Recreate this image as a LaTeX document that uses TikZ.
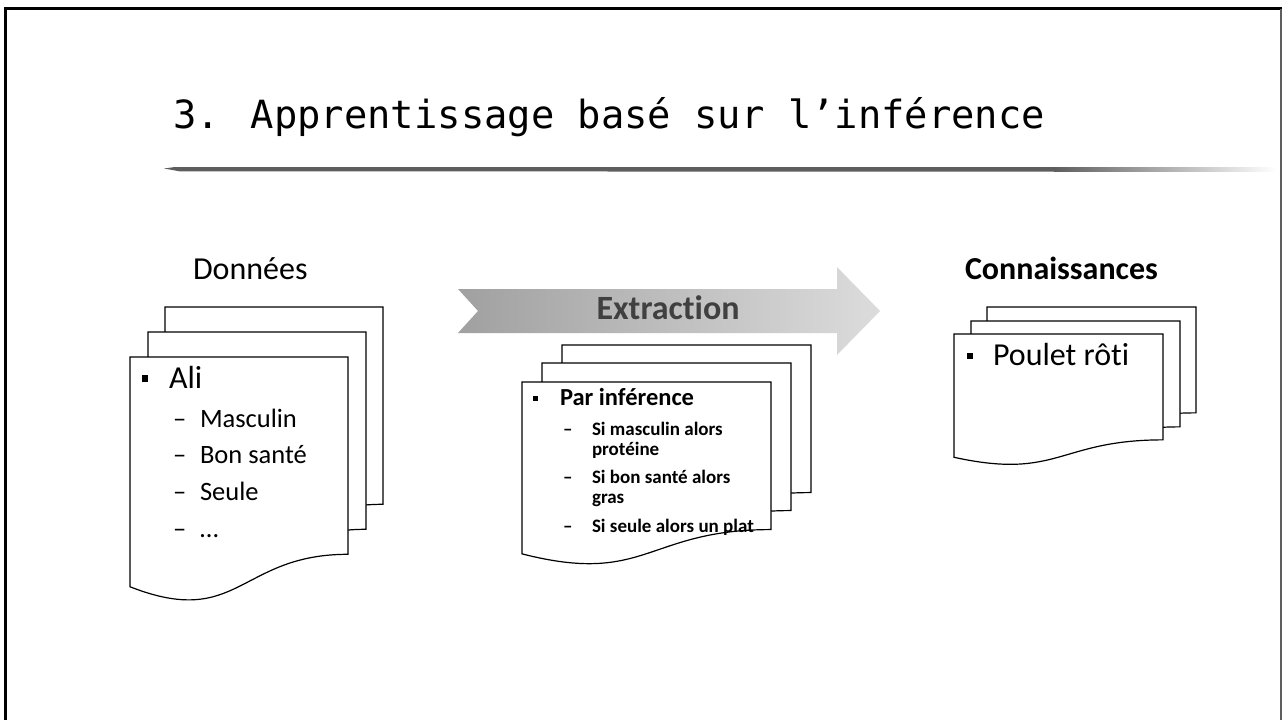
\documentclass[tikz,border=0pt]{standalone}
\usepackage{fontspec}
\setmainfont{Carlito}[Ligatures={TeX,NoCommon}]
\newfontfamily\titlefont{DejaVu Sans Mono}
\definecolor{strokegray}{HTML}{5E5E5E}
\definecolor{arrowleft}{HTML}{A0A0A0}
\definecolor{arrowmid}{HTML}{BABABA}
\definecolor{arrowright}{HTML}{DCDCDC}
\definecolor{extrtext}{HTML}{404040}
\newcommand\docpage[4]{%
  \draw[docline] (#1,#2) -- ({#1+#3},#2) -- ({#1+#3},{#2+0.802*#4})
    .. controls ({#1+0.5*#3},{#2+0.802*#4}) and ({#1+0.5*#3},{#2+1.1075*#4}) ..
    (#1,{#2+0.934*#4}) -- cycle;}
\begin{document}
\begin{tikzpicture}[x=1pt,y=-1pt,
  docline/.style={draw=black, line width=1.2pt, fill=white},
  txt/.style={anchor=base west, inner sep=0pt, outer sep=0pt},
  bul/.style={fill=black, inner sep=0pt, minimum size=#1},
  bul/.default=6.5pt,
  big/.style={font=\fontsize{32}{38}\selectfont},
  sub/.style={font=\fontsize{26.5}{31}\selectfont},
  midhead/.style={font=\bfseries\fontsize{24.5}{29}\selectfont},
  midsub/.style={font=\bfseries\fontsize{19}{23}\selectfont},
]
\useasboundingbox (0,0) rectangle (1282,720);
\fill[white] (0,0) rectangle (1282,720);
% slide frame
\draw[line width=3pt] (5.5,720) -- (5.5,8.5) -- (1282,8.5);
\draw[strokegray, line width=1.5pt] (1281,8.5) -- (1281,720);
% title
\node[txt, font=\titlefont\fontsize{38.8}{46}\selectfont] (title) at (173,128) {3. Apprentissage basé sur l’inférence};
% brush underline
\fill[strokegray] (164,168.5) -- (175,167) -- (1055,167.2) -- (1055,171.6) -- (180,171.4) -- cycle;
\shade[left color=strokegray, right color=white] (1054,167.2) rectangle (1276,171.4);
% left column
\node[txt, big] (donnees) at (193,279) {Données};
\docpage{165}{307}{218}{246}
\docpage{148}{332}{218}{246}
\docpage{130}{357}{218}{246}
\node[bul=6.7pt] (b1) at (145,378.5) {};
\node[txt, big] (ali) at (169,388) {Ali};
\node[txt, sub] (d1) at (173,427) {–};
\node[txt, sub] (masc) at (200,427) {Masculin};
\node[txt, sub] (d2) at (173,463) {–};
\node[txt, sub] (sante) at (200,463) {Bon santé};
\node[txt, sub] (d3) at (173,500) {–};
\node[txt, sub] (seule) at (200,500) {Seule};
\node[txt, sub] (d4) at (173,537) {–};
\node[txt, sub] (etc) at (200,537) {…};
% arrow
\shade[left color=arrowleft, middle color=arrowmid, right color=arrowright]
  (458,289) -- (837,289) -- (837,267) -- (880,311) -- (837,355) -- (837,333) -- (458,333) -- (478,311) -- cycle;
\node[anchor=base, inner sep=0pt, text=extrtext, font=\bfseries\fontsize{34}{40}\selectfont] (extr) at (668,319) {Extraction};
% middle column
\docpage{562}{345}{249}{184}
\docpage{542}{363}{249}{184}
\docpage{522}{382}{249}{184}
\node[bul=5pt] (b2) at (535,398) {};
\node[txt, midhead] (par) at (560,405) {Par inférence};
\node[txt, midsub] (m1) at (563,435) {–};
\node[txt, midsub] (r1a) at (592,435) {Si masculin alors};
\node[txt, midsub] (r1b) at (592,455) {protéine};
\node[txt, midsub] (m2) at (563,483) {–};
\node[txt, midsub] (r2a) at (592,483) {Si bon santé alors};
\node[txt, midsub] (r2b) at (592,503) {gras};
\node[txt, midsub] (m3) at (563,532) {–};
\node[txt, midsub] (r3) at (592,532) {Si seule alors un plat};
% right column
\node[txt, font=\bfseries\fontsize{32}{38}\selectfont] (conn) at (965,279) {Connaissances};
\docpage{987}{307}{209}{132}
\docpage{971}{321}{209}{132}
\docpage{954}{334}{209}{132}
\node[bul=6pt] (b3) at (969.5,355.7) {};
\node[txt, big] (poulet) at (993,365) {Poulet rôti};
\end{tikzpicture}
\end{document}
